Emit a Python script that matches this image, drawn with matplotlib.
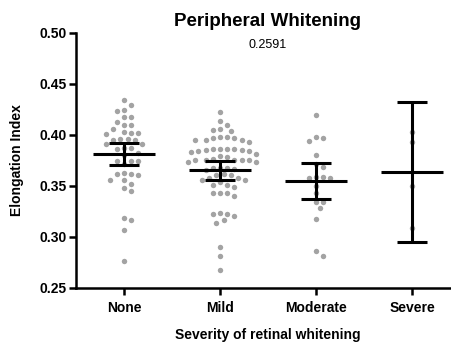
import numpy as np
import matplotlib
matplotlib.use("Agg")
import matplotlib.pyplot as plt

plt.rcParams['font.family'] = ['Liberation Sans', 'DejaVu Sans']

# -----------------------------
# Data
# -----------------------------
categories = ['None', 'Mild', 'Moderate', 'Severe']

none_vals = [0.4345, 0.4290, 0.4248, 0.4231, 0.4179, 0.4179, 0.4124, 0.4098, 0.4098,
             0.4059, 0.4020, 0.4010, 0.4020, 0.4026, 0.3951, 0.3961, 0.3961, 0.3951,
             0.3912, 0.3912, 0.3873, 0.3873, 0.3863, 0.3798, 0.3821, 0.3743, 0.3743,
             0.3743, 0.3710, 0.3629, 0.3603, 0.3612, 0.3619, 0.3554, 0.3554, 0.3521,
             0.3482, 0.3450, 0.3163, 0.3179, 0.3065, 0.2756]
mild_vals = [0.4228, 0.4134, 0.4101, 0.4059, 0.4042, 0.4049, 0.3977, 0.3967, 0.3945,
             0.3945, 0.3945, 0.3928, 0.3967, 0.3977, 0.3863, 0.3847, 0.3863, 0.3863,
             0.3863, 0.3853, 0.3840, 0.3814, 0.3788, 0.3782, 0.3831, 0.3840, 0.3759,
             0.3749, 0.3749, 0.3733, 0.3733, 0.3749, 0.3749, 0.3756, 0.3668, 0.3658,
             0.3678, 0.3678, 0.3678, 0.3603, 0.3580, 0.3603, 0.3619, 0.3554, 0.3580,
             0.3554, 0.3505, 0.3489, 0.3505, 0.3538, 0.3433, 0.3433, 0.3401, 0.3424,
             0.3202, 0.3228, 0.3222, 0.3222, 0.3163, 0.3130, 0.2902, 0.2805, 0.2674]
moderate_vals = [0.4195, 0.3971, 0.3977, 0.3935, 0.3805, 0.3710, 0.3684, 0.3583, 0.3573,
                 0.3580, 0.3590, 0.3495, 0.3424, 0.3339, 0.3339, 0.3277, 0.3169, 0.2863,
                 0.2811]
severe_vals = [0.4026, 0.3925, 0.3498, 0.3088]

means = [0.3814, 0.3658, 0.3547, 0.3638]
ci_low = [0.3700, 0.3560, 0.3365, 0.2948]
ci_high = [0.3922, 0.3743, 0.3720, 0.4319]

p_value = '0.2591'


def swarm(vals, diam_x, diam_y):
    # simple beeswarm: place each point as close to centre as possible
    order = np.argsort(vals)[::-1]
    placed = []
    offs = np.zeros(len(vals))
    for i in order:
        y = vals[i]
        k = 0
        while True:
            cand = [0.0] if k == 0 else [k * diam_x * 0.5, -k * diam_x * 0.5]
            ok = None
            for c in cand:
                if all(((c - px) / diam_x) ** 2 + ((y - py) / diam_y) ** 2 >= 1.0
                       for px, py in placed):
                    ok = c
                    break
            if ok is not None:
                break
            k += 1
        placed.append((ok, y))
        offs[i] = ok
    return offs


# -----------------------------
# Plotting
# -----------------------------
fig = plt.figure(figsize=(4.52, 3.42), dpi=100)
ax = fig.add_axes([76 / 452, 54.5 / 342, 384 / 452, 254.5 / 342])

groups = [none_vals, mild_vals, moderate_vals, severe_vals]
for i, vals in enumerate(groups):
    vals = np.array(vals)
    offs = swarm(vals, 0.075, 0.0068)
    ax.plot(i + offs, vals, 'o', color='#a3a3a3', markersize=3.9,
            markeredgewidth=0, zorder=2)

x = np.arange(len(categories))
ax.hlines(means, x - 0.32, x + 0.32, color='black', lw=2.2, zorder=3)
ax.vlines(x, ci_low, ci_high, color='black', lw=2.2, zorder=3)
ax.hlines(ci_low, x - 0.16, x + 0.16, color='black', lw=2.2, zorder=3)
ax.hlines(ci_high, x - 0.16, x + 0.16, color='black', lw=2.2, zorder=3)

ax.set_xlim(-0.5, 3.5)
ax.set_ylim(0.25, 0.50)
ax.set_xticks(x)
ax.set_xticklabels(categories, fontweight='bold', fontsize=10)
ax.set_yticks([0.25, 0.30, 0.35, 0.40, 0.45, 0.50])
ax.set_yticklabels(['0.25', '0.30', '0.35', '0.40', '0.45', '0.50'],
                   fontweight='bold', fontsize=10)
ax.spines['top'].set_visible(False)
ax.spines['right'].set_visible(False)
ax.spines['left'].set_linewidth(1.8)
ax.spines['bottom'].set_linewidth(1.8)
ax.tick_params(width=1.8, length=5)
ax.tick_params(axis='x', pad=5)
ax.tick_params(axis='y', pad=2)

ax.set_xlabel('Severity of retinal whitening', fontweight='bold', fontsize=10, labelpad=9)
ax.set_ylabel('Elongation Index', fontweight='bold', fontsize=10, labelpad=11)

fig.text(268 / 452, 1 - 22 / 342, 'Peripheral Whitening', ha='center', va='center',
         fontweight='bold', fontsize=13.5)
fig.text(268 / 452, 1 - 45 / 342, p_value, ha='center', va='center', fontsize=9)

fig.savefig('out.png', dpi=100)
